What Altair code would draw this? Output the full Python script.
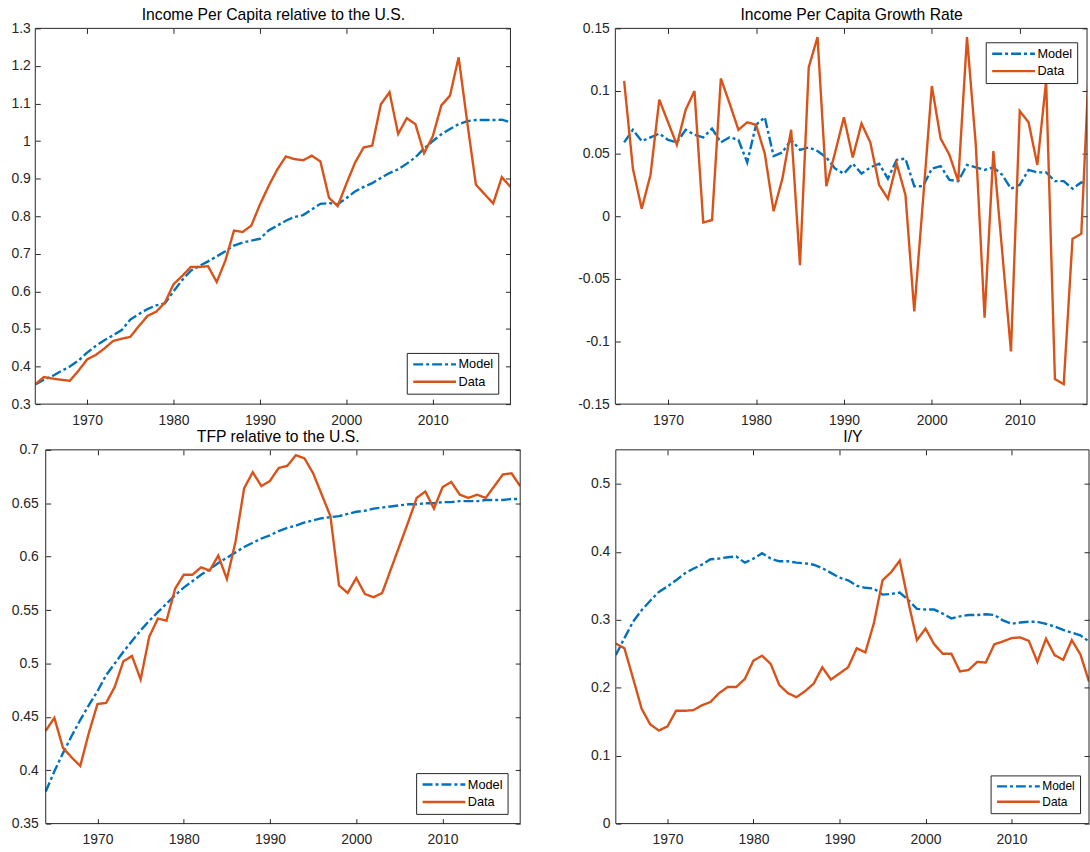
import altair as alt
import pandas as pd

# ---------------------------------------------------------------- data
YEARS = list(range(1964, 2020))          # levels
GROWTH_YEARS = list(range(1965, 2019))   # growth rates

income_model = [
    0.352, 0.365, 0.375, 0.388, 0.400, 0.416, 0.437, 0.455, 0.470, 0.483,
    0.497, 0.525, 0.540, 0.553, 0.563, 0.568, 0.600, 0.630, 0.655, 0.668,
    0.680, 0.693, 0.707, 0.722, 0.730, 0.735, 0.740, 0.762, 0.775, 0.788,
    0.798, 0.803, 0.818, 0.833, 0.835, 0.832, 0.848, 0.866, 0.878, 0.888,
    0.902, 0.915, 0.925, 0.940, 0.957, 0.980, 1.000, 1.018, 1.032, 1.045,
    1.053, 1.056, 1.056, 1.056, 1.057, 1.050,
]
income_data = [
    0.353, 0.372, 0.368, 0.365, 0.362, 0.389, 0.419, 0.431, 0.448, 0.468,
    0.474, 0.479, 0.508, 0.535, 0.546, 0.570, 0.619, 0.641, 0.665, 0.665,
    0.667, 0.625, 0.682, 0.762, 0.758, 0.775, 0.831, 0.880, 0.924, 0.959,
    0.952, 0.949, 0.961, 0.946, 0.849, 0.827, 0.886, 0.942, 0.983, 0.988,
    1.098, 1.130, 1.019, 1.061, 1.045, 0.968, 1.012, 1.095, 1.121, 1.223,
    1.050, 0.884, 0.859, 0.834, 0.904, 0.878,
]

growth_model = [
    0.059, 0.069, 0.060, 0.063, 0.066, 0.061, 0.059, 0.069, 0.065, 0.063,
    0.070, 0.059, 0.063, 0.061, 0.043, 0.073, 0.079, 0.048, 0.051, 0.061,
    0.053, 0.055, 0.052, 0.047, 0.038, 0.034, 0.042, 0.034, 0.039, 0.042,
    0.030, 0.045, 0.046, 0.024, 0.024, 0.038, 0.040, 0.029, 0.028, 0.041,
    0.039, 0.037, 0.039, 0.033, 0.022, 0.025, 0.037, 0.035, 0.035, 0.028,
    0.028, 0.022, 0.027, 0.025,
]
growth_data = [
    0.108, 0.038, 0.006, 0.033, 0.093, 0.075, 0.057, 0.085, 0.100, -0.005,
    -0.003, 0.110, 0.090, 0.069, 0.075, 0.073, 0.050, 0.004, 0.030, 0.069,
    -0.039, 0.119, 0.143, 0.024, 0.051, 0.079, 0.047, 0.074, 0.059, 0.025,
    0.014, 0.042, 0.017, -0.076, 0.013, 0.104, 0.062, 0.049, 0.028, 0.143,
    0.057, -0.081, 0.052, -0.028, -0.108, 0.084, 0.075, 0.041, 0.108, -0.130,
    -0.134, -0.018, -0.014, 0.140,
]

tfp_model = [
    0.380, 0.399, 0.416, 0.432, 0.447, 0.461, 0.474, 0.489, 0.500, 0.511,
    0.521, 0.531, 0.540, 0.548, 0.556, 0.564, 0.571, 0.577, 0.583, 0.588,
    0.594, 0.599, 0.604, 0.609, 0.613, 0.617, 0.620, 0.624, 0.627, 0.629,
    0.632, 0.634, 0.636, 0.637, 0.638, 0.640, 0.642, 0.643, 0.645, 0.646,
    0.647, 0.648, 0.649, 0.649, 0.650, 0.650, 0.651, 0.651, 0.652, 0.652,
    0.652, 0.653, 0.653, 0.653, 0.654, 0.654,
]
tfp_data = [
    0.437, 0.449, 0.421, 0.412, 0.404, 0.435, 0.462, 0.463, 0.478, 0.502,
    0.507, 0.485, 0.525, 0.542, 0.540, 0.570, 0.583, 0.583, 0.590, 0.587,
    0.601, 0.579, 0.614, 0.664, 0.679, 0.666, 0.671, 0.683, 0.685, 0.695,
    0.692, 0.678, 0.658, 0.638, 0.573, 0.566, 0.580, 0.565, 0.562, 0.566,
    0.588, 0.610, 0.632, 0.655, 0.661, 0.645, 0.665, 0.670, 0.658, 0.655,
    0.658, 0.655, 0.666, 0.677, 0.678, 0.666,
]

iy_model = [
    0.248, 0.273, 0.297, 0.314, 0.328, 0.341, 0.349, 0.358, 0.368, 0.375,
    0.381, 0.389, 0.390, 0.392, 0.393, 0.384, 0.390, 0.398, 0.390, 0.386,
    0.386, 0.384, 0.383, 0.381, 0.376, 0.369, 0.362, 0.358, 0.350, 0.347,
    0.346, 0.337, 0.338, 0.340, 0.329, 0.316, 0.315, 0.315, 0.309, 0.302,
    0.305, 0.307, 0.307, 0.308, 0.307, 0.299, 0.294, 0.296, 0.297, 0.297,
    0.294, 0.290, 0.285, 0.281, 0.277, 0.268,
]
iy_data = [
    0.265, 0.258, 0.214, 0.169, 0.146, 0.137, 0.143, 0.166, 0.166, 0.167,
    0.174, 0.179, 0.192, 0.201, 0.201, 0.213, 0.240, 0.247, 0.235, 0.204,
    0.192, 0.186, 0.195, 0.206, 0.230, 0.212, 0.221, 0.230, 0.258, 0.252,
    0.295, 0.358, 0.370, 0.387, 0.326, 0.270, 0.287, 0.264, 0.250, 0.250,
    0.224, 0.226, 0.238, 0.237, 0.264, 0.268, 0.273, 0.274, 0.269, 0.238,
    0.272, 0.248, 0.241, 0.270, 0.249, 0.209,
]

SERIES = ["Model", "Data"]
YEAR_TICKS = [1970, 1980, 1990, 2000, 2010]

# ---------------------------------------------------------------- style
BLUE = "#0072BD"
ORANGE = "#D95319"
INK = "#262626"
FONT = "Liberation Sans"
LINE_W = 2.4
DASH_DOT = [10, 3, 3, 3]

Y_LABELS = ("datum.value < 0 ? '-' + format(-datum.value, '~g') "
            ": format(datum.value, '~g')")

# shared tick styling: ticks point inward (axis pulled 5px inside the frame)
TICK_STYLE = dict(
    domain=False, grid=False, ticks=True, tickSize=5, tickColor=INK,
    tickWidth=1, labelFont=FONT, labelFontSize=14, labelColor=INK,
    minExtent=0,
)


def long_frame(years, model, data):
    n = len(years)
    return pd.DataFrame({
        "year": list(years) * 2,
        "value": list(model) + list(data),
        "series": ["Model"] * n + ["Data"] * n,
    })


def bottom_axis():
    return alt.Axis(orient="bottom", values=YEAR_TICKS, format="d", offset=-5,
                    labelPadding=9, title=None, **TICK_STYLE)


def top_axis(title):
    # the panel title rides on the top axis so every panel places it alike
    return alt.Axis(orient="top", values=YEAR_TICKS, labels=False, offset=-5,
                    title=title, titleFont=FONT, titleFontSize=15.8,
                    titleFontWeight="normal", titleColor="black",
                    titleBaseline="alphabetic", titlePadding=8.5,
                    maxExtent=5, **{**TICK_STYLE, "minExtent": 5})


def left_axis(ticks, pad, inset):
    return alt.Axis(orient="left", values=ticks, labelExpr=Y_LABELS,
                    offset=-(5 + inset), labelPadding=pad, title=None,
                    **TICK_STYLE)


def right_axis(ticks):
    return alt.Axis(orient="right", values=ticks, labels=False, offset=-5,
                    title=None, **TICK_STYLE)


def panel(df, title, frame_x, y_dom, y_ticks, legend_xy, width, height, ypad,
          inset=0.0, legend_font=12.8, legend_row=13):
    # frame_x: x limits of the boxed axes; the scale may reach a little
    # further left (inset, in px) so that panel's box sits further right
    px_per_year = (width - inset) / (frame_x[1] - frame_x[0])
    x_dom = [frame_x[0] - inset / px_per_year, frame_x[1]]

    legend = alt.Legend(
        title=None, orient="none", legendX=legend_xy[0], legendY=legend_xy[1],
        symbolType="stroke", symbolSize=1849, symbolStrokeWidth=LINE_W,
        clipHeight=legend_row, labelFont=FONT, labelFontSize=legend_font,
        labelColor="black", labelOffset=1, padding=5, rowPadding=3.5,
        strokeColor=INK, fillColor="white", cornerRadius=0,
    )
    color = alt.Color("series:N", legend=legend,
                      scale=alt.Scale(domain=SERIES, range=[BLUE, ORANGE]))
    dash = alt.StrokeDash("series:N", legend=legend,
                          scale=alt.Scale(domain=SERIES, range=[DASH_DOT, [1, 0]]))
    xs = alt.Scale(domain=x_dom, nice=False, zero=False)
    ys = alt.Scale(domain=y_dom, nice=False, zero=False)

    base = alt.Chart(df)
    model = base.transform_filter(alt.datum.series == "Model").mark_line(
        clip=True, strokeWidth=LINE_W
    ).encode(
        x=alt.X("year:Q", scale=xs, axis=bottom_axis()),
        y=alt.Y("value:Q", scale=ys, axis=left_axis(y_ticks, ypad, inset)),
        color=color, strokeDash=dash,
    )
    data = base.transform_filter(alt.datum.series == "Data").mark_line(
        clip=True, strokeWidth=LINE_W
    ).encode(
        x=alt.X("year:Q", scale=xs, axis=top_axis(title)),
        y=alt.Y("value:Q", scale=ys, axis=right_axis(y_ticks)),
        color=color, strokeDash=dash,
    )
    box = alt.Chart(pd.DataFrame({
        "x0": [frame_x[0]], "x1": [frame_x[1]],
        "y0": [y_dom[0]], "y1": [y_dom[1]],
    })).mark_rect(fillOpacity=0, stroke=INK, strokeWidth=1).encode(
        x=alt.X("x0:Q", scale=xs, axis=None), x2="x1:Q",
        y=alt.Y("y0:Q", scale=ys, axis=None), y2="y1:Q",
    )
    return alt.layer(model, data, box).resolve_axis(
        x="independent", y="independent"
    ).properties(width=width, height=height)


p1 = panel(long_frame(YEARS, income_model, income_data),
           "Income Per Capita relative to the U.S.",
           [1964, 2019], [0.3, 1.3],
           [0.3, 0.4, 0.5, 0.6, 0.7, 0.8, 0.9, 1.0, 1.1, 1.2, 1.3],
           (373.7, 326.5), 478, 378, 5)
p2 = panel(long_frame(GROWTH_YEARS, growth_model, growth_data),
           "Income Per Capita Growth Rate",
           [1964, 2017.65], [-0.15, 0.15],
           [-0.15, -0.1, -0.05, 0.0, 0.05, 0.1, 0.15],
           (372.6, 14), 474.5, 378, 6)
p3 = panel(long_frame(YEARS, tfp_model, tfp_data),
           "TFP relative to the U.S.",
           [1964, 2019], [0.35, 0.7],
           [0.35, 0.4, 0.45, 0.5, 0.55, 0.6, 0.65, 0.7],
           (383.1, 325.2), 487.8, 376, 7.5, inset=10.5)
p4 = panel(long_frame(YEARS, iy_model, iy_data),
           "I/Y",
           [1964, 2019], [0.0, 0.55],
           [0.0, 0.1, 0.2, 0.3, 0.4, 0.5],
           (377, 327.5), 476, 376, 6, legend_font=12, legend_row=12)

INDEP = dict(color="independent", strokeDash="independent")

top = alt.hconcat(p1, p2, spacing=65.5).resolve_scale(**INDEP).resolve_legend(**INDEP)
bottom = alt.hconcat(p3, p4, spacing=69).resolve_scale(**INDEP).resolve_legend(**INDEP)

chart = alt.vconcat(top, bottom, spacing=0).resolve_scale(**INDEP).resolve_legend(
    **INDEP
).properties(
    padding={"left": 10.5, "top": 4, "right": 0, "bottom": 0},
    background="white",
).configure_view(stroke="transparent")

chart.save("out.html", embed_options={"renderer": "svg", "actions": False})
